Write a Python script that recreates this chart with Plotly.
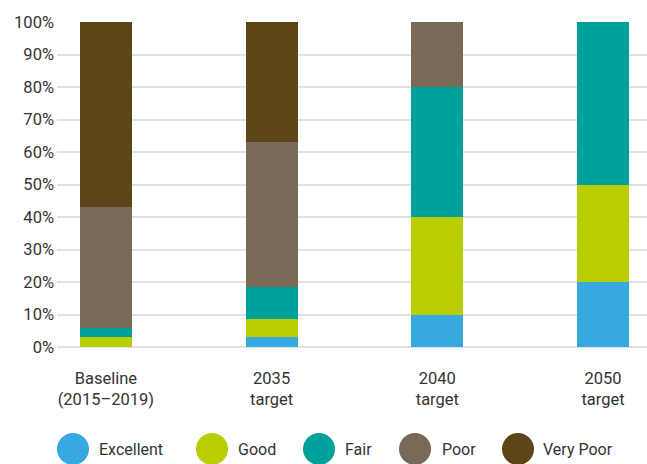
import plotly.graph_objects as go

categories = ["Baseline<br>(2015–2019)", "2035<br>target", "2040<br>target", "2050<br>target"]
series_names = ["Excellent", "Good", "Fair", "Poor", "Very Poor"]
excellent = [0, 3, 10, 20]
good = [3, 5.5, 30, 30]
fair = [3, 10, 40, 50]
poor = [37, 44.5, 20, 0]
very_poor = [57, 37, 0, 0]
y_ticks = [0, 10, 20, 30, 40, 50, 60, 70, 80, 90, 100]
y_tick_labels = [f"{v}%" for v in y_ticks]

colors = ["#38A8E0", "#B8CE00", "#00A19A", "#7A6957", "#5C4516"]
values = [excellent, good, fair, poor, very_poor]

FONT = "Roboto"
TXT = "#333333"

fig = go.Figure()
for name, vals, col in zip(series_names, values, colors):
    fig.add_trace(go.Bar(x=categories, y=vals, name=name, marker=dict(color=col, line=dict(width=0)),
                         width=0.313, showlegend=False, hoverinfo="skip"))

L, T, B, W, H = 57, 22, 117, 647, 464
pw = W - L
ph = H - T - B

def px_to_paper_x(px):
    return (px - L) / pw

def px_to_paper_y(py):
    return (H - B - py) / ph

shapes = []
annotations = []
legend_circle_x = [73, 212, 319, 415, 518]
legend_text_x = [97, 236, 343, 440, 541]
legend_y = 449
for name, col, cx, tx in zip(series_names, colors, legend_circle_x, legend_text_x):
    shapes.append(dict(type="circle", xref="paper", yref="paper", xsizemode="pixel", ysizemode="pixel",
                       xanchor=px_to_paper_x(cx), yanchor=px_to_paper_y(legend_y),
                       x0=-16, x1=16, y0=-16, y1=16, fillcolor=col, line=dict(width=0)))
    annotations.append(dict(text=name, xref="paper", yref="paper", x=px_to_paper_x(tx), y=px_to_paper_y(legend_y),
                            xanchor="left", yanchor="middle", showarrow=False,
                            font=dict(family=FONT, size=16, color=TXT)))

fig.update_layout(
    barmode="stack",
    width=W, height=H,
    margin=dict(l=L, r=0, t=T, b=B, pad=0),
    paper_bgcolor="white", plot_bgcolor="white",
    font=dict(family=FONT, size=16, color=TXT),
    shapes=shapes, annotations=annotations,
    xaxis=dict(type="category", range=[-0.295, 3.265], showgrid=False, showline=False, ticks="",
               ticklabelstandoff=19,
               tickfont=dict(family=FONT, size=16.5, color=TXT), zeroline=False),
    yaxis=dict(range=[0, 100], tickvals=y_ticks, ticktext=y_tick_labels, showgrid=True,
               gridcolor="#E2E2E2", gridwidth=1.5, zeroline=True, zerolinecolor="#E2E2E2", zerolinewidth=1.5,
               showline=False, ticks="", ticklabelstandoff=2,
               tickfont=dict(family=FONT, size=16.5, color=TXT)),
    showlegend=False,
)

fig.write_html("out.html", config={"displayModeBar": False},
               post_script="document.body.style.margin='0';document.body.style.overflow='hidden';")
